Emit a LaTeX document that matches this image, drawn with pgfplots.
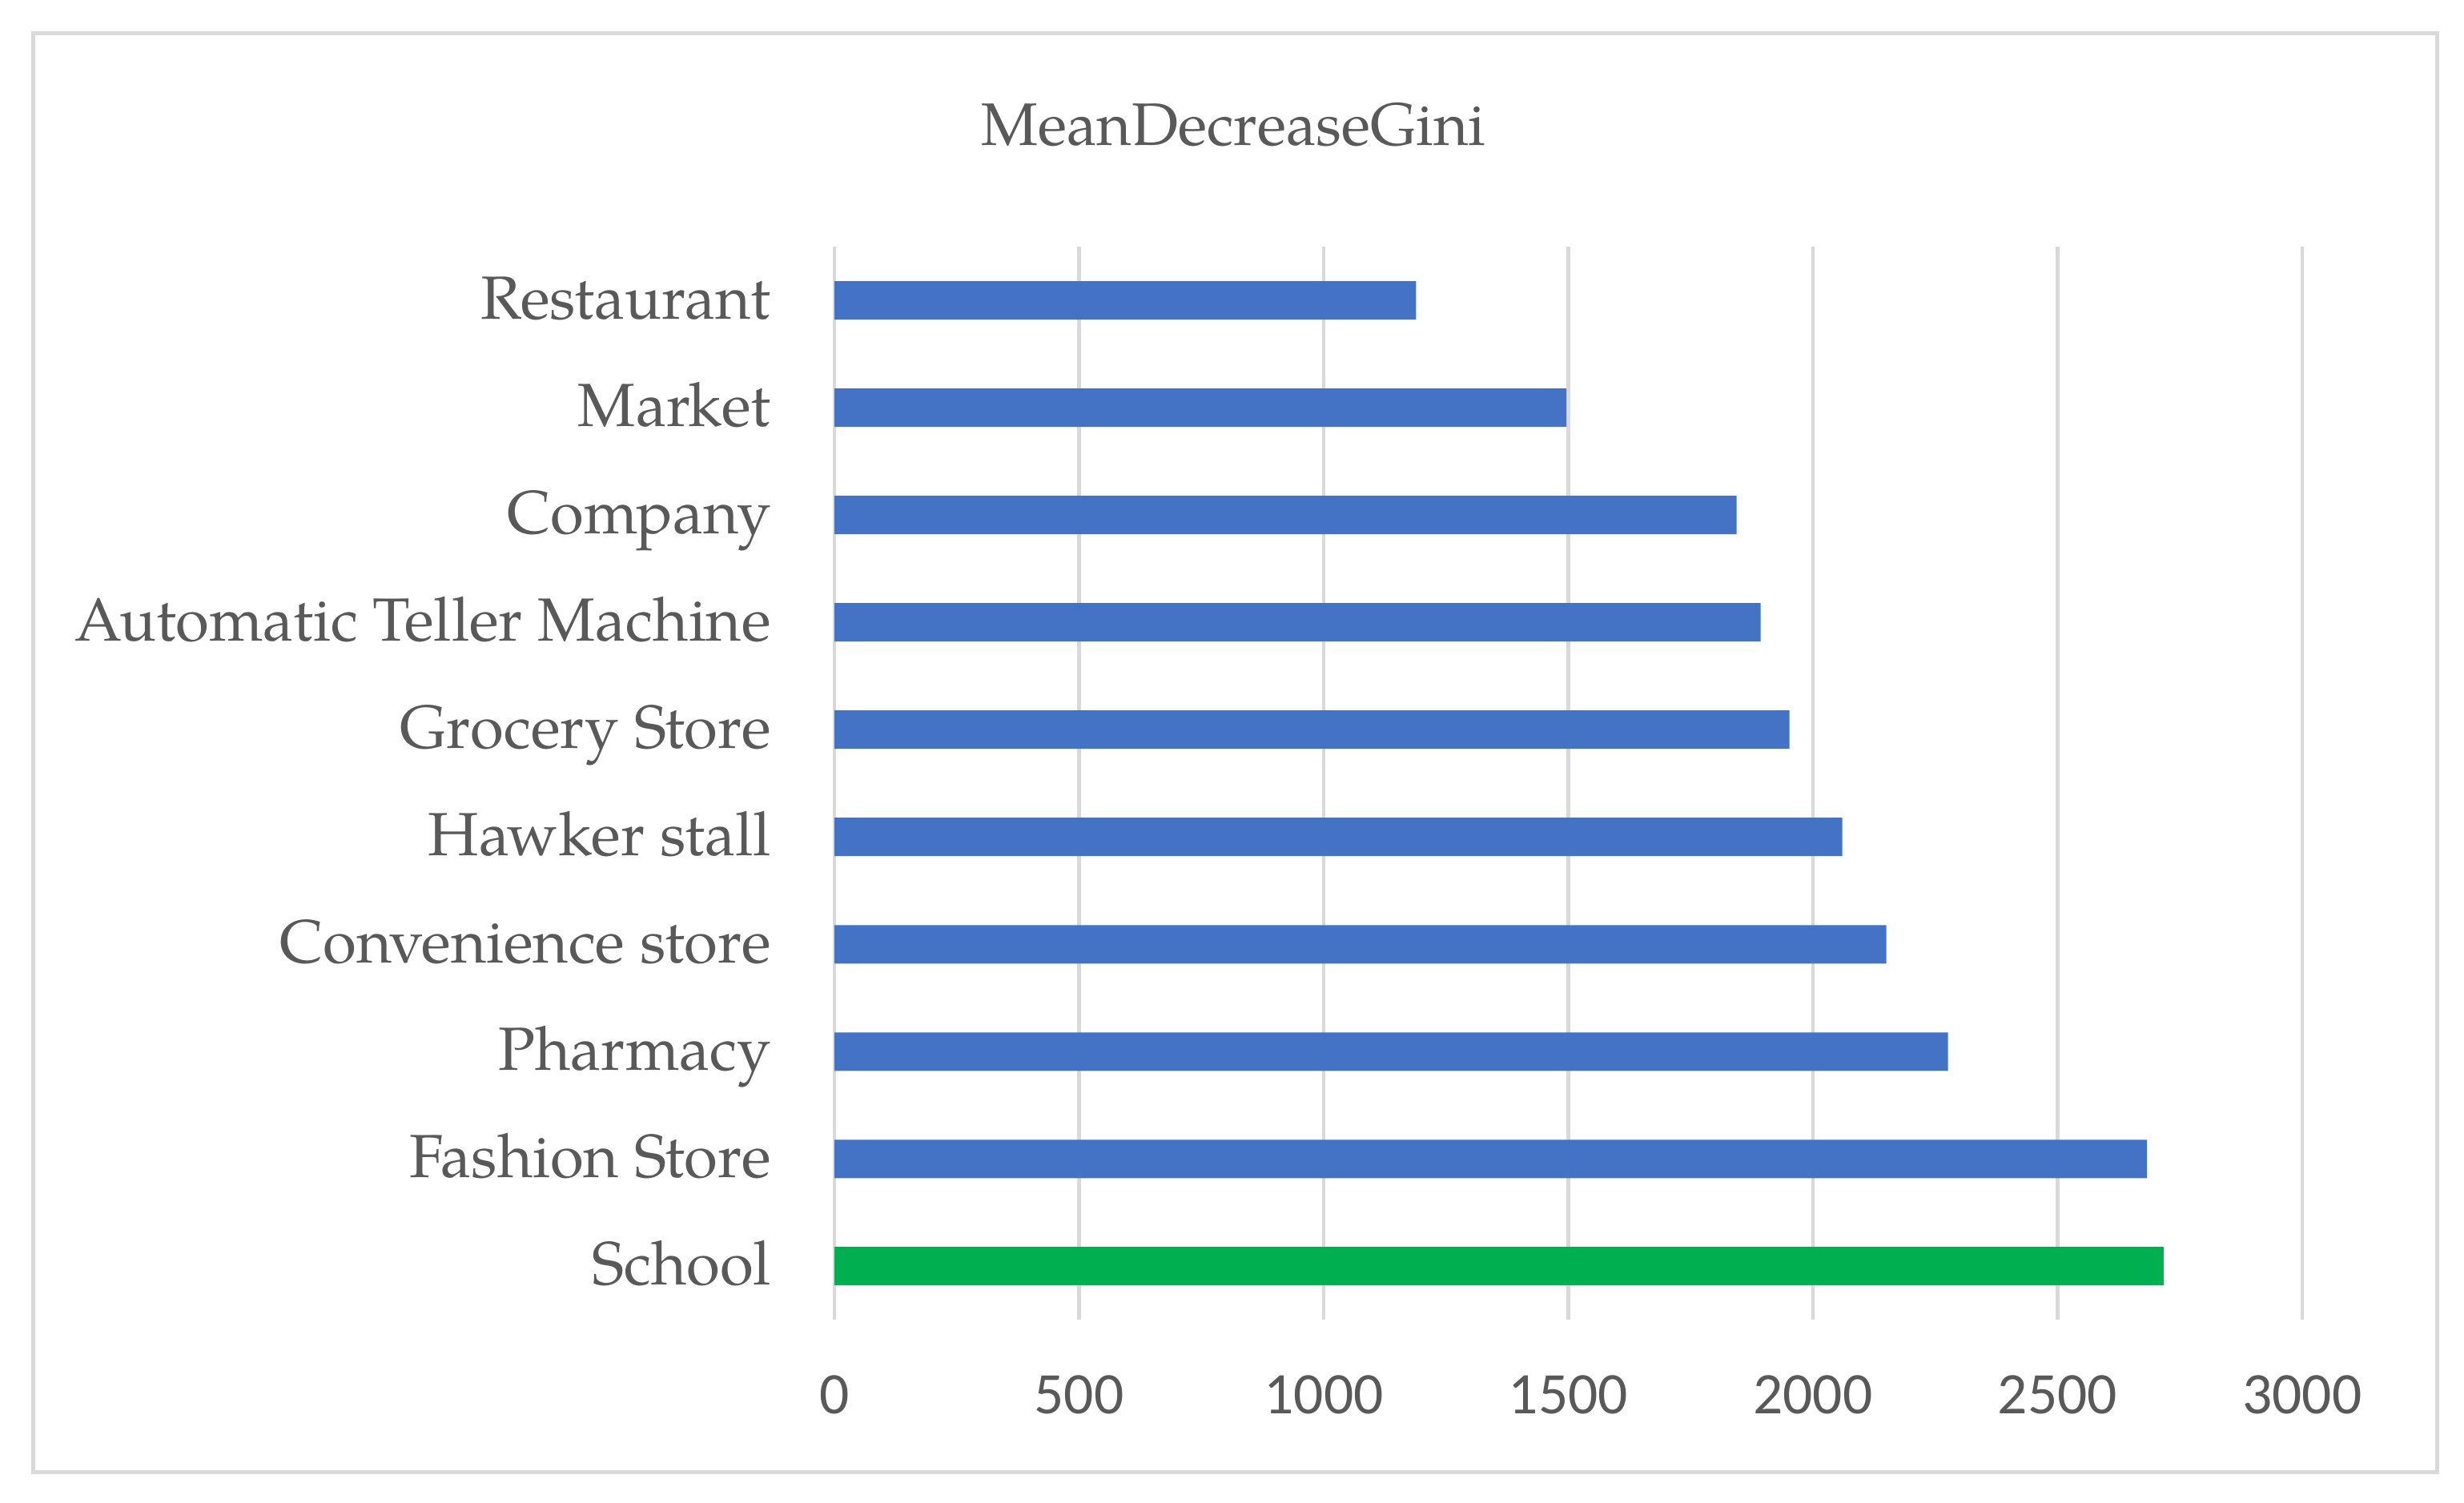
\documentclass[border=0pt]{standalone}
\usepackage{pgfplots}
\pgfplotsset{compat=1.18}
\usepackage{fontspec}
\setmainfont{TeX Gyre Pagella}
\newfontfamily\tickfont{Carlito}
\definecolor{txt}{HTML}{595959}
\definecolor{gridc}{HTML}{D9D9D9}
\definecolor{barblue}{HTML}{4472C4}
\definecolor{bargreen}{HTML}{00B050}
\begin{document}
\begin{tikzpicture}
\useasboundingbox (0,0) rectangle (784pt,478pt);
\draw[gridc, line width=1.2pt] (10.5pt,9.5pt) rectangle (775.5pt,467.5pt);
\node[anchor=base, text=txt, font=\fontsize{19.1}{23}\selectfont, inner sep=0pt] at (392.5pt,431.7pt) {MeanDecreaseGini};
\begin{axis}[at={(265.5pt,58pt)}, anchor=south west, scale only axis, width=467pt, height=341.5pt,
 xmin=0, xmax=3000, ymin=-0.5, ymax=9.5, xtick={0,500,...,3000}, ytick={0,...,9},
 yticklabels={School, Fashion Store, Pharmacy, Convenience store, Hawker stall, Grocery Store, Automatic Teller Machine, Company, Market, Restaurant},
 xbar, bar shift=0pt, bar width=0.358,
 axis line style={draw=none}, major tick length=0pt, xmajorgrids, major grid style={gridc, line width=1.2pt},
 xticklabel style={font=\tickfont\fontsize{18.75}{22}\selectfont, text=txt, anchor=north, inner sep=0pt, yshift=-17.5pt},
 yticklabel style={font=\fontsize{19.4}{23}\selectfont, text=txt, anchor=base east, inner sep=0pt, xshift=-20pt, yshift=-6pt},
 /pgf/number format/assume math mode=true,
 scaled x ticks=false, /pgf/number format/1000 sep={},
 clip=false]
\addplot[fill=barblue, draw=none] coordinates {(2683,1) (2276,2) (2150,3) (2060,4) (1952,5) (1893,6) (1844,7) (1496,8) (1189,9)};
\addplot[fill=bargreen, draw=none] coordinates {(2717,0)};
\end{axis}
\end{tikzpicture}
\end{document}
